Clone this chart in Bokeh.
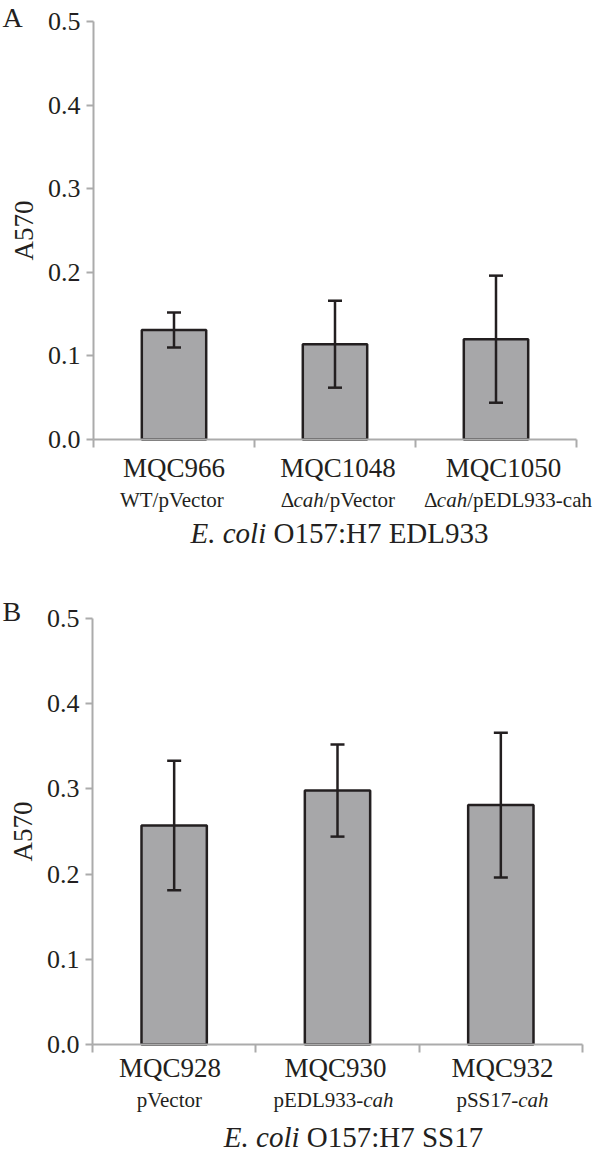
import numpy as np
from bokeh.plotting import figure
from bokeh.models import (Range1d, FixedTicker, CustomJSTickFormatter, NumeralTickFormatter,
                          LinearAxis, Whisker, TeeHead, ColumnDataSource)
from bokeh.core.properties import value
from bokeh.layouts import column
from bokeh.embed import file_html
from bokeh.resources import INLINE

# ---------------- data ----------------
strains_a = ["MQC966", "MQC1048", "MQC1050"]
subs_a = [[("WT/pVector", False)],
          [("\u0394", False), ("cah", True), ("/pVector", False)],
          [("\u0394", False), ("cah", True), ("/pEDL933-cah", False)]]
title_a = [("E. coli", True), (" O157:H7 EDL933", False)]
mean_a = [0.131, 0.114, 0.120]
sd_a = [0.021, 0.052, 0.076]

strains_b = ["MQC928", "MQC930", "MQC932"]
subs_b = [[("pVector", False)],
          [("pEDL933-", False), ("cah", True)],
          [("pSS17-", False), ("cah", True)]]
title_b = [("E. coli", True), (" O157:H7 SS17", False)]
mean_b = [0.257, 0.298, 0.281]
sd_b = [0.076, 0.054, 0.085]

y_ticks = [0.0, 0.1, 0.2, 0.3, 0.4, 0.5]
y_max = 0.5
y_title = "A570"
panel_letters = ["A", "B"]

# ---------------- style ----------------
FONT = "Liberation Serif"
TXT = "#231f20"
AXC = "#ababab"
BAR = "#a7a7a9"
W = 600
BASE_CORR = 0.35   # empirical shift so that the glyph baseline lands where wanted

REG = {' ': 250, '.': 250, '/': 278, '-': 333, ':': 278, 'A': 722, 'C': 667, 'D': 722,
       'E': 611, 'H': 722, 'L': 611, 'M': 889, 'O': 722, 'Q': 722, 'S': 556, 'T': 611,
       'V': 722, 'W': 944, 'a': 444, 'c': 444, 'e': 444, 'h': 500, 'o': 500, 'p': 500,
       'r': 333, 't': 278, '\u0394': 612}
ITA = {' ': 250, '.': 250, 'E': 611, 'c': 444, 'o': 500, 'l': 278, 'i': 278, 'a': 500, 'h': 500}


def text_width(s, italic, fs):
    tab = ITA if italic else REG
    return sum(tab.get(ch, 500) for ch in s) / 1000.0 * fs


def make_panel(cfg, strains, subs, title, mean, sd, letter, ncat=3):
    top_page = cfg["top"]
    height = cfg["height"]
    fl, fr, ft, fb = cfg["fl"], cfg["fr"], cfg["ft"], cfg["fb"]
    ppx = (fr - fl) / ncat          # px per category
    ppy = (fb - ft) / y_max         # px per unit value
    x_range = Range1d(-fl / ppx, (W - fl) / ppx)
    y_range = Range1d((fb - (top_page + height)) / ppy, (fb - top_page) / ppy)

    p = figure(width=W, height=height, output_backend="svg", toolbar_location=None,
               x_range=x_range, y_range=y_range, x_axis_type=None, y_axis_type=None,
               min_border=0, min_border_left=0, min_border_right=0,
               min_border_top=0, min_border_bottom=0,
               background_fill_color="white", border_fill_color="white")
    p.outline_line_color = None
    p.grid.visible = False

    def xd(px):
        return (px - fl) / ppx

    def yd(py):
        return (fb - py) / ppy

    xs = np.arange(ncat) + 0.5
    upper = [m + s for m, s in zip(mean, sd)]
    lower = [m - s for m, s in zip(mean, sd)]
    src = ColumnDataSource(dict(x=xs, top=mean, upper=upper, lower=lower))
    p.vbar(x="x", top="top", width=0.4, source=src, fill_color=BAR,
           line_color=TXT, line_width=2.5)
    w = Whisker(base="x", upper="upper", lower="lower", source=src, level="annotation",
                line_color=TXT, line_width=2.5,
                upper_head=TeeHead(size=14, line_color=TXT, line_width=2.5),
                lower_head=TeeHead(size=14, line_color=TXT, line_width=2.5))
    p.add_layout(w)

    # y axis at x = 0
    ya = LinearAxis(fixed_location=0, bounds=(0, y_max))
    ya.ticker = FixedTicker(ticks=y_ticks)
    ya.formatter = NumeralTickFormatter(format="0.0")
    ya.major_label_text_font = FONT
    ya.major_label_text_font_size = "26px"
    ya.major_label_text_color = TXT
    ya.major_label_standoff = 6
    ya.major_tick_in = 0
    ya.major_tick_out = 7
    ya.minor_tick_line_color = None
    ya.axis_line_color = AXC
    ya.axis_line_width = 2
    ya.major_tick_line_color = AXC
    ya.major_tick_line_width = 2
    p.add_layout(ya, "left")

    # x axis at y = 0 (ticks at category boundaries)
    xa = LinearAxis(fixed_location=0, bounds=(0, ncat))
    xa.ticker = FixedTicker(ticks=list(range(ncat + 1)))
    xa.formatter = CustomJSTickFormatter(code="return ''")
    xa.major_tick_in = 0
    xa.major_tick_out = 8
    xa.minor_tick_line_color = None
    xa.axis_line_color = AXC
    xa.axis_line_width = 2
    xa.major_tick_line_color = AXC
    xa.major_tick_line_width = 2
    p.add_layout(xa, "below")

    def put(xpx, ypx, txt, fs, align="left", italic=False, angle=0.0, baseline="alphabetic"):
        if baseline == "alphabetic":
            ypx = ypx - BASE_CORR * fs
        p.text(x=[xd(xpx)], y=[yd(ypx)], text=[txt], text_align=align,
               text_baseline=baseline, text_font=value(FONT),
               text_font_size=value(f"{fs}px"), text_color=TXT, angle=angle,
               text_font_style="italic" if italic else "normal")

    def add_pieces(pieces, cx, base_py, fs):
        total = sum(text_width(t, it, fs) for t, it in pieces)
        cur = cx - total / 2.0
        for t, it in pieces:
            lead = len(t) - len(t.lstrip(" "))
            core = t.strip(" ")
            start = cur + text_width(" " * lead, it, fs)
            put(start, base_py, core, fs, italic=it)
            cur += text_width(t, it, fs)

    for i in range(ncat):
        put(cfg["mqc_cx"][i], cfg["mqc_base"], strains[i], 27, align="center")
        add_pieces(subs[i], cfg["sub_cx"][i], cfg["sub_base"], 21)
    add_pieces(title, cfg["title_cx"], cfg["title_base"], 29)

    # y-axis title (rotated) and panel letter
    put(cfg["ytitle_x"], (ft + fb) / 2.0, y_title, 27, align="center", angle=np.pi / 2,
        baseline="middle")
    put(cfg["letter_x"], cfg["letter_base"], letter, 28)
    return p


cfg_a = dict(top=0, height=570, fl=93, fr=576, ft=21, fb=439,
             mqc_cx=[173.5, 337.5, 503], mqc_base=477,
             sub_cx=[172.5, 338.5, 507.5], sub_base=507,
             title_cx=339, title_base=543, letter_x=2, letter_base=27, ytitle_x=23)
cfg_b = dict(top=570, height=586, fl=92, fr=582, ft=618, fb=1044,
             mqc_cx=[169.5, 335, 502], mqc_base=1077,
             sub_cx=[170, 333, 502], sub_base=1107,
             title_cx=353, title_base=1147, letter_x=2, letter_base=621, ytitle_x=22)

pa = make_panel(cfg_a, strains_a, subs_a, title_a, mean_a, sd_a, panel_letters[0])
pb = make_panel(cfg_b, strains_b, subs_b, title_b, mean_b, sd_b, panel_letters[1])

layout = column(pa, pb)
open("out.html", "w").write(file_html(layout, INLINE))
